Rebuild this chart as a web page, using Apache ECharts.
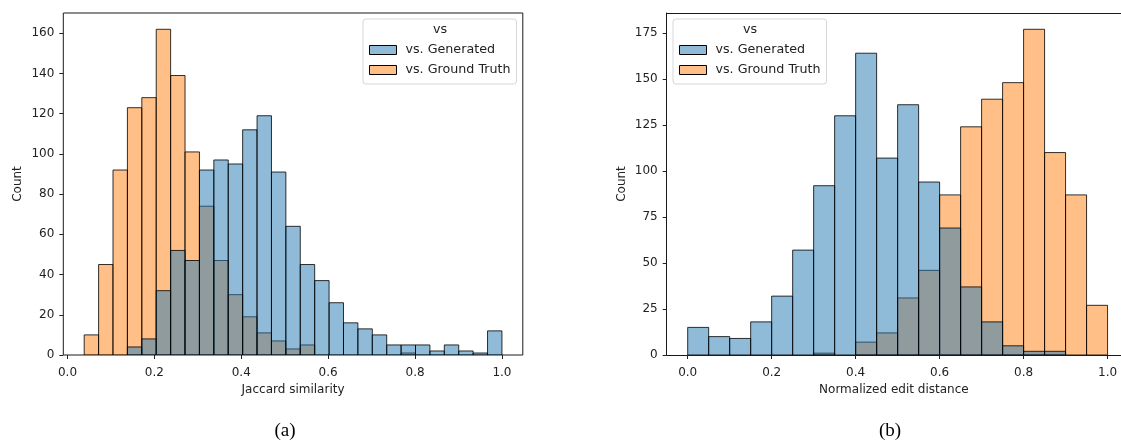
<!DOCTYPE html>
<html>
<head>
<meta charset="utf-8">
<script src="https://cdn.jsdelivr.net/npm/echarts@6/dist/echarts.min.js"></script>
<style>
html,body{margin:0;padding:0;background:#fff;}
#chart{width:1121px;height:441px;}
</style>
</head>
<body>
<div id="chart"></div>
<script>
// ---- data ----
const seriesNames = ['vs. Generated', 'vs. Ground Truth'];
const legendTitle = 'vs';
const xTicks = [0, 0.2, 0.4, 0.6, 0.8, 1.0];
const yTicksJaccard = [0, 20, 40, 60, 80, 100, 120, 140, 160];
const yTicksEdit = [0, 25, 50, 75, 100, 125, 150, 175];
const xNameJaccard = 'Jaccard similarity';
const xNameEdit = 'Normalized edit distance';
const yName = 'Count';
const captions = ['(a)', '(b)'];

// Jaccard similarity histogram: 29 bins between these edges
const jaccardBinLo = 0.0385;
const jaccardBinHi = 1.0;
const jaccardGenerated   = [0, 0, 0, 4, 8, 32, 52, 47, 92, 97, 95, 112, 119, 91, 64, 45, 37, 26, 16, 13, 10, 5, 5, 5, 2, 5, 2, 1, 12];
const jaccardGroundTruth = [10, 45, 92, 123, 128, 162, 139, 101, 74, 47, 30, 19, 11, 7, 3, 5, 0, 0, 0, 0, 0, 0, 1, 0, 0, 0, 0, 0, 0];

// Normalized edit distance histogram: 20 bins between these edges
const editBinLo = 0.0;
const editBinHi = 1.0;
const editGenerated   = [15, 10, 9, 18, 32, 57, 92, 130, 164, 107, 136, 94, 69, 37, 18, 5, 2, 2, 0, 0];
const editGroundTruth = [0, 0, 0, 0, 0, 0, 1, 0, 7, 12, 31, 46, 87, 124, 139, 148, 177, 110, 87, 27];

// ---- styling ----
const blueFill = 'rgba(31,119,180,0.5)';
const orangeFill = 'rgba(255,127,14,0.5)';
const edgeColor = 'rgba(0,0,0,0.8)';
const spineColor = '#1a1a1a';
const textColor = '#222';
const font = 'DejaVu Sans';

function binsToData(lo, hi, counts) {
  const w = (hi - lo) / counts.length;
  return counts.map((c, i) => [lo + i * w, lo + (i + 1) * w, c]);
}

function renderBar(fill) {
  return function (params, api) {
    const c = api.value(2);
    if (!c) return null;
    const p0 = api.coord([api.value(0), 0]);
    const p1 = api.coord([api.value(1), c]);
    return {
      type: 'rect',
      shape: { x: p0[0], y: p1[1], width: p1[0] - p0[0], height: p0[1] - p1[1] },
      style: { fill: fill, stroke: edgeColor, lineWidth: 1 }
    };
  };
}

function histSeries(name, fill, idx, lo, hi, counts) {
  return {
    type: 'custom',
    name: name,
    xAxisIndex: idx,
    yAxisIndex: idx,
    itemStyle: { color: fill },
    renderItem: renderBar(fill),
    encode: { x: [0, 1], y: 2 },
    data: binsToData(lo, hi, counts),
    clip: true,
    silent: true
  };
}

function xAxisCfg(idx, min, max, name, showLine) {
  return {
    type: 'value', gridIndex: idx, min: min, max: max,
    name: name, nameLocation: 'middle', nameGap: 29,
    nameTextStyle: { fontFamily: font, fontSize: 12, color: textColor },
    axisLine: { show: showLine, onZero: false, lineStyle: { color: spineColor, width: 1 } },
    splitLine: { show: false },
    axisTick: { show: true, length: 4, inside: false, customValues: xTicks, lineStyle: { color: '#222' } },
    axisLabel: { customValues: xTicks, margin: 12, fontFamily: font, fontSize: 12, color: textColor,
                 formatter: v => v.toFixed(1) }
  };
}

function yAxisCfg(idx, max, ticks, showLine) {
  return {
    type: 'value', gridIndex: idx, min: 0, max: max,
    name: yName, nameLocation: 'middle', nameGap: 39, nameRotate: 90,
    nameTextStyle: { fontFamily: font, fontSize: 12, color: textColor },
    axisLine: { show: showLine, onZero: false, lineStyle: { color: spineColor, width: 1 } },
    splitLine: { show: false },
    axisTick: { show: true, length: 4, customValues: ticks, lineStyle: { color: '#222' } },
    axisLabel: { customValues: ticks, margin: 9, fontFamily: font, fontSize: 12, color: textColor }
  };
}

function legendCfg(left) {
  return {
    left: left, top: 19, orient: 'vertical', selectedMode: false,
    icon: 'rect', itemWidth: 27, itemHeight: 9, itemGap: 6,
    padding: [24, 6, 7, 6],
    backgroundColor: '#fff', borderColor: '#d6d6d6', borderWidth: 1, borderRadius: 3,
    textStyle: { fontFamily: font, fontSize: 12.7, lineHeight: 14, color: textColor, padding: [0, 0, 0, 4] },
    data: [
      { name: seriesNames[0], itemStyle: { color: blueFill, borderColor: '#000', borderWidth: 1 } },
      { name: seriesNames[1], itemStyle: { color: orangeFill, borderColor: '#000', borderWidth: 1 } }
    ]
  };
}

// right panel: axes box is wider than the page, so its right spine is cut off
const editXMin = -0.05;
const editXMaxVisible = 1.032;

const chart = echarts.init(document.getElementById('chart'), null, { renderer: 'canvas' });
chart.setOption({
  animation: false,
  backgroundColor: '#fff',
  grid: [
    { left: 63.3, top: 13, width: 459.5, height: 342, show: true, borderColor: spineColor, borderWidth: 1 },
    { left: 666.7, top: 13, width: 454.3, height: 342, show: false }
  ],
  xAxis: [
    xAxisCfg(0, -0.0096, 1.048, xNameJaccard, false),
    xAxisCfg(1, editXMin, editXMaxVisible, xNameEdit, true),
    { type: 'value', gridIndex: 1, position: 'top', min: editXMin, max: editXMaxVisible,
      axisLine: { show: true, onZero: false, lineStyle: { color: spineColor, width: 1 } },
      axisTick: { show: false }, axisLabel: { show: false }, splitLine: { show: false } }
  ],
  yAxis: [
    yAxisCfg(0, 170.1, yTicksJaccard, false),
    yAxisCfg(1, 185.85, yTicksEdit, true)
  ],
  legend: [legendCfg(363), legendCfg(673)],
  graphic: [
    { type: 'text', z: 1000, x: 440, y: 30, style: { text: legendTitle, font: '12.7px "DejaVu Sans"', fill: textColor, align: 'center', verticalAlign: 'middle' } },
    { type: 'text', z: 1000, x: 750, y: 30, style: { text: legendTitle, font: '12.7px "DejaVu Sans"', fill: textColor, align: 'center', verticalAlign: 'middle' } },
    { type: 'text', x: 285, y: 431, style: { text: captions[0], font: '19px "Liberation Serif"', fill: '#000', align: 'center', verticalAlign: 'middle' } },
    { type: 'text', x: 890, y: 431, style: { text: captions[1], font: '19px "Liberation Serif"', fill: '#000', align: 'center', verticalAlign: 'middle' } }
  ],
  series: [
    histSeries(seriesNames[1], orangeFill, 0, jaccardBinLo, jaccardBinHi, jaccardGroundTruth),
    histSeries(seriesNames[0], blueFill, 0, jaccardBinLo, jaccardBinHi, jaccardGenerated),
    histSeries(seriesNames[1], orangeFill, 1, editBinLo, editBinHi, editGroundTruth),
    histSeries(seriesNames[0], blueFill, 1, editBinLo, editBinHi, editGenerated)
  ]
});
</script>
</body>
</html>
